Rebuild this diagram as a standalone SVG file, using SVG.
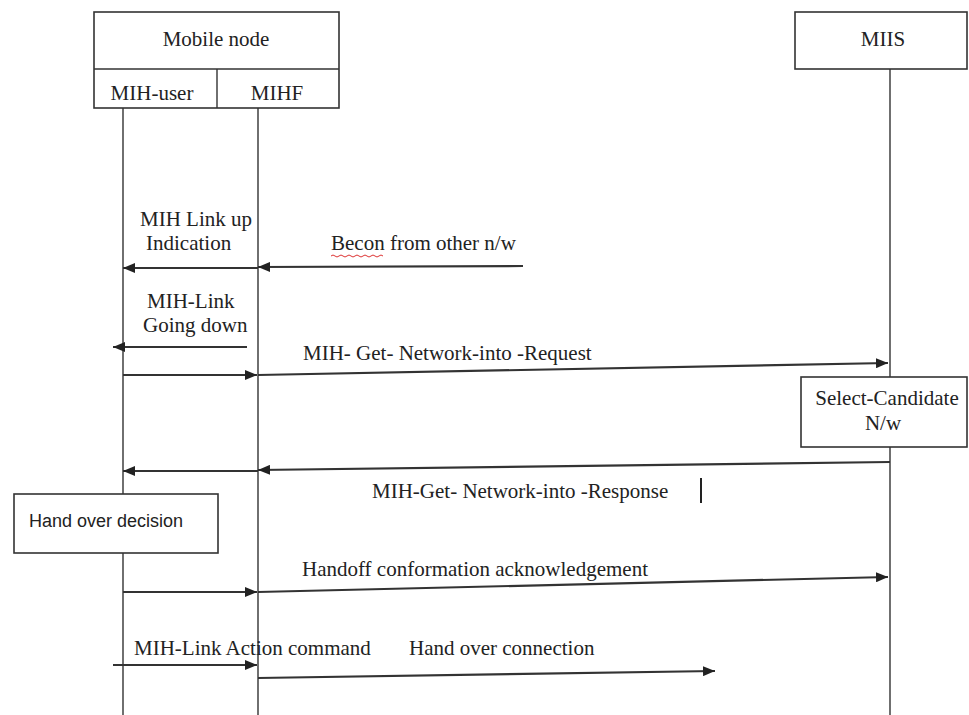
<svg xmlns="http://www.w3.org/2000/svg" width="969" height="715" viewBox="0 0 969 715">
<style>
  .box { fill: #fff; stroke: #333; stroke-width: 1.6; }
  .life { stroke: #333; stroke-width: 1.4; fill: none; }
  .msg { stroke: #333; stroke-width: 2.2; fill: none; marker-end: url(#ah); }
  .t { font-family: "Liberation Serif", "Times New Roman", serif; font-size: 21px; fill: #222; }
  .c { text-anchor: middle; }
  .s { font-family: "Liberation Sans", Arial, sans-serif; font-size: 18px; fill: #222; }
</style>
<defs>
  <marker id="ah" viewBox="0 0 12 10" refX="12" refY="5" markerWidth="12" markerHeight="10" markerUnits="userSpaceOnUse" orient="auto">
    <path d="M0,0 L12,5 L0,10 Z" fill="#222"/>
  </marker>
</defs>
<rect width="969" height="715" fill="#fff"/>

<g id="lifelines">
  <line class="life" x1="123" y1="108" x2="123" y2="715"/>
  <line class="life" x1="258" y1="108" x2="258" y2="715"/>
  <line class="life" x1="890" y1="69" x2="890" y2="715"/>
</g>

<g id="mobile-node">
  <rect class="box" x="94" y="12" width="245" height="96"/>
  <line class="life" x1="94" y1="69" x2="339" y2="69"/>
  <line class="life" x1="217" y1="69" x2="217" y2="108"/>
  <text class="t c" x="216" y="46">Mobile node</text>
  <text class="t c" x="152" y="100">MIH-user</text>
  <text class="t c" x="277" y="100">MIHF</text>
</g>

<g id="miis">
  <rect class="box" x="795" y="12" width="172" height="57"/>
  <text class="t c" x="883" y="46">MIIS</text>
</g>

<g id="select-candidate">
  <rect class="box" x="801" y="377" width="166" height="70"/>
  <text class="t c" x="887" y="405">Select-Candidate</text>
  <text class="t c" x="883" y="430">N/w</text>
</g>

<g id="handover-decision">
  <rect class="box" x="14" y="494" width="204" height="59"/>
  <text class="s" x="29" y="527">Hand over decision</text>
</g>

<g id="connectors">
  <line class="msg" x1="258" y1="268" x2="123" y2="268"/>
  <line class="msg" x1="523" y1="266" x2="258" y2="267"/>
  <line class="msg" x1="247" y1="347" x2="113" y2="347"/>
  <line class="msg" x1="123" y1="375" x2="257" y2="375"/>
  <line class="msg" x1="258" y1="375" x2="888" y2="363"/>
  <line class="msg" x1="890" y1="462" x2="258" y2="470"/>
  <line class="msg" x1="258" y1="471" x2="123" y2="471"/>
  <line class="msg" x1="123" y1="592" x2="257" y2="592"/>
  <line class="msg" x1="258" y1="592" x2="888" y2="577"/>
  <line class="msg" x1="113" y1="665" x2="257" y2="665"/>
  <line class="msg" x1="258" y1="678" x2="715" y2="671"/>
  <line stroke="#222" stroke-width="2" x1="701" y1="478" x2="701" y2="503"/>
</g>

<g id="labels">
  <text class="t" x="140" y="226">MIH Link up</text>
  <text class="t" x="146" y="250">Indication</text>
  <text class="t" x="331" y="250">Becon from other n/w</text>
  <path d="M331,256 q2,-2 4,0 t4,0 t4,0 t4,0 t4,0 t4,0 t4,0 t4,0 t4,0 t4,0 t4,0 t4,0 t4,0" fill="none" stroke="#d33" stroke-width="1"/>
  <text class="t" x="147" y="308">MIH-Link</text>
  <text class="t" x="143" y="332">Going down</text>
  <text class="t" x="303" y="360">MIH- Get- Network-into -Request</text>
  <text class="t" x="372" y="498">MIH-Get- Network-into -Response</text>
  <text class="t" x="302" y="576">Handoff conformation acknowledgement</text>
  <text class="t" x="134" y="655">MIH-Link Action command</text>
  <text class="t" x="409" y="655">Hand over connection</text>
</g>
</svg>
